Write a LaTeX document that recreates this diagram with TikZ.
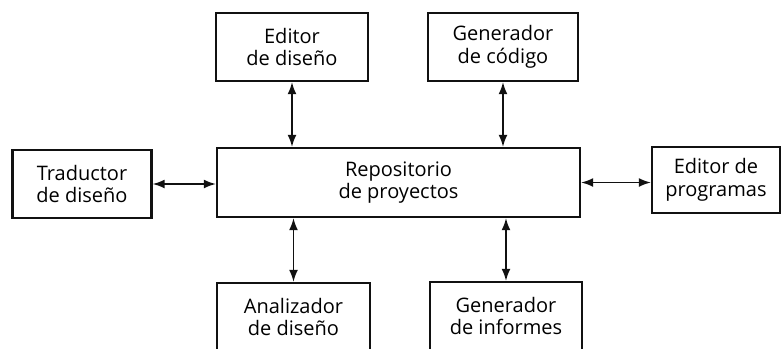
\documentclass[tikz,border=0pt]{standalone}
\usepackage{fontspec}
\setmainfont{Open Sans}
\usetikzlibrary{arrows.meta,positioning}
\definecolor{ink}{HTML}{111111}
\tikzset{
  box/.style={draw=ink, line width=1.1pt, align=center, inner sep=0pt, minimum height=34pt, font=\fontsize{10}{11.3}\selectfont},
  arrow/.style={{Latex[length=6pt,width=4.4pt]}-{Latex[length=6pt,width=4.4pt]}, line width=0.75pt, draw=ink}
}
\begin{document}
\begin{tikzpicture}[x=0.5pt, y=-0.5pt]
  \useasboundingbox (0,0) rectangle (784,349);

  \node[box, minimum width=76pt] (edis) at (292,47) {Editor\\de diseño};
  \node[box, minimum width=75pt] (gcod) at (503,47) {Generador\\de código};
  \node[box, minimum width=69.5pt] (trad) at (82,184) {Traductor\\de diseño};
  \node[box, minimum width=181.5pt, minimum height=34.5pt] (repo) at (398.5,182.5) {Repositorio\\de proyectos};
  \node[box, minimum width=64pt, minimum height=33pt] (eprog) at (716,180) {Editor de\\programas};
  \node[box, minimum width=76.5pt] (anal) at (293.5,317) {Analizador\\de diseño};
  \node[box, minimum width=76pt] (ginf) at (506,316) {Generador\\de informes};

  \draw[arrow] (edis.south) -- (edis.south |- repo.north);
  \draw[arrow] (gcod.south) -- (gcod.south |- repo.north);
  \draw[arrow] (trad.east) -- (trad.east -| repo.west);
  \draw[arrow] (repo.east) -- (repo.east -| eprog.west);
  \draw[arrow] (anal.north |- repo.south) -- (anal.north);
  \draw[arrow] (ginf.north |- repo.south) -- (ginf.north);
\end{tikzpicture}
\end{document}
